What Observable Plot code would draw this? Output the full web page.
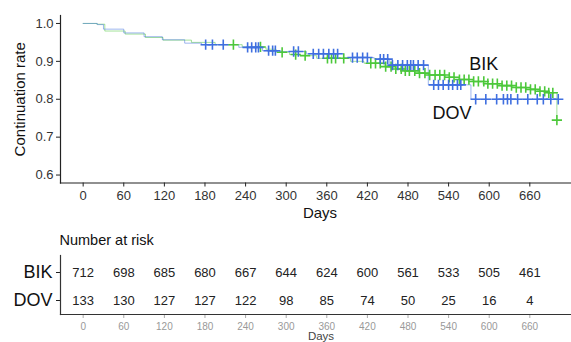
<!DOCTYPE html>
<html>
<head>
<meta charset="utf-8">
<script src="https://cdn.jsdelivr.net/npm/d3@7"></script>
<script src="https://cdn.jsdelivr.net/npm/@observablehq/plot@0.6"></script>
<style>
  html, body { margin: 0; padding: 0; background: white; }
  #chart svg { display: block; }
</style>
</head>
<body>
<div id="chart"></div>
<script>
// ---- Data ----
const groups = ["BIK", "DOV"];
const riskTimes = [0, 60, 120, 180, 240, 300, 360, 420, 480, 540, 600, 660];
const bikRisk = [712, 698, 685, 680, 667, 644, 624, 600, 561, 533, 505, 461];
const dovRisk = [133, 130, 127, 127, 122, 98, 85, 74, 50, 25, 16, 4];
const yTicks = [0.6, 0.7, 0.8, 0.9, 1.0];

// Kaplan-Meier step curves (day, continuation rate)
const bikTimes = [0, 20, 32, 62, 92, 118, 160, 195, 235, 270, 285, 305, 320, 345, 395, 415, 445, 462, 476, 495, 510, 535, 555, 575, 595, 615, 635, 655, 672, 688, 700];
const bikSurv  = [1.0, 0.998, 0.98, 0.972, 0.963, 0.956, 0.95, 0.944, 0.938, 0.932, 0.924, 0.918, 0.915, 0.908, 0.9, 0.895, 0.886, 0.88, 0.875, 0.869, 0.864, 0.858, 0.852, 0.847, 0.841, 0.836, 0.831, 0.826, 0.821, 0.817, 0.745];
const dovTimes = [0, 21, 30, 60, 90, 117, 150, 175, 230, 265, 290, 330, 385, 430, 453, 510, 573, 702];
const dovSurv  = [1.0, 0.997, 0.985, 0.975, 0.965, 0.957, 0.948, 0.944, 0.937, 0.928, 0.926, 0.92, 0.91, 0.906, 0.89, 0.838, 0.80, 0.80];

// Censoring times (days)
const bikCensor = [222, 262, 294, 314, 328, 361, 367, 373, 385, 425, 432, 439, 447, 455, 462, 470, 476, 482, 490, 497, 505, 512, 520, 527, 534, 541, 548, 556, 563, 570, 577, 584, 592, 598, 605, 612, 619, 626, 633, 640, 647, 654, 661, 668, 675, 682, 688, 694, 700];
const dovCensor = [181, 191, 207, 243, 249, 255, 259, 274, 280, 284, 311, 318, 340, 348, 355, 363, 370, 376, 398, 405, 413, 420, 439, 444, 450, 457, 465, 472, 479, 484, 488, 495, 503, 518, 525, 532, 540, 546, 553, 558, 580, 595, 611, 621, 627, 632, 642, 657, 671, 680, 691, 702];

// Curve end labels
const labelText = ["BIK", "DOV"];
const labelDay = [592, 545];
const labelRate = [0.892, 0.762];

// ---- Build tables ----
const colors = {BIK: "#4cc83a", DOV: "#3f6fe0"};
function stepAt(times, surv, t) {
  let v = surv[0];
  for (let i = 0; i < times.length; i++) if (times[i] <= t) v = surv[i];
  return v;
}
const curves = [
  ...bikTimes.map((t, i) => ({group: "BIK", day: t, rate: bikSurv[i]})),
  ...dovTimes.map((t, i) => ({group: "DOV", day: t, rate: dovSurv[i]}))
];
const censors = [
  ...bikCensor.map(t => ({group: "BIK", day: t, rate: stepAt(bikTimes, bikSurv, t)})),
  ...dovCensor.map(t => ({group: "DOV", day: t, rate: stepAt(dovTimes, dovSurv, t)}))
];
const labels = labelText.map((s, i) => ({text: s, day: labelDay[i], rate: labelRate[i]}));
const risk = [
  ...riskTimes.map((t, i) => ({group: "BIK", day: t, n: bikRisk[i]})),
  ...riskTimes.map((t, i) => ({group: "DOV", day: t, n: dovRisk[i]}))
];

const xDomain = [-33.5, 721.6];
const font = "Arial, 'Liberation Sans', sans-serif";

const main = Plot.plot({
  width: 571, height: 225,
  marginLeft: 60, marginRight: 0, marginTop: 15, marginBottom: 42.5,
  style: {fontFamily: font, background: "white", color: "#222", overflow: "visible"},
  x: {domain: xDomain},
  y: {domain: [0.579, 1.021]},
  marks: [
    Plot.axisX({ticks: riskTimes, tickSize: 4, tickPadding: 4, fontSize: 13, label: null, stroke: "#222", fill: "#333"}),
    Plot.axisY({ticks: yTicks, tickFormat: d3.format(".1f"), tickSize: 4, tickPadding: 3, fontSize: 13, label: null, stroke: "#222", fill: "#333"}),
    Plot.frame({anchor: "left", stroke: "#222", strokeWidth: 1.2}),
    Plot.frame({anchor: "bottom", stroke: "#222", strokeWidth: 1.2}),
    Plot.line(curves, {x: "day", y: "rate", z: "group", curve: "step-after",
      stroke: d => colors[d.group], strokeWidth: 1, strokeOpacity: 0.5}),
    Plot.dot(censors, {x: "day", y: "rate", symbol: "plus", r: 3.4, fill: "none",
      stroke: d => colors[d.group], strokeWidth: 1.6}),
    Plot.text(labels, {x: "day", y: "rate", text: "text", fontSize: 18, fill: "#111"}),
    Plot.text(["Days"], {frameAnchor: "bottom", lineAnchor: "middle", dx: 4, dy: 30, fontSize: 15, fill: "#111"}),
    Plot.text(["Continuation rate"], {frameAnchor: "left", textAnchor: "middle", lineAnchor: "middle", dx: -40, rotate: -90, fontSize: 15, fill: "#111"})
  ]
});

const table = Plot.plot({
  width: 571, height: 117,
  marginLeft: 60, marginRight: 0, marginTop: 30, marginBottom: 28,
  style: {fontFamily: font, background: "white", color: "#222", overflow: "visible"},
  x: {domain: xDomain},
  y: {type: "point", domain: groups, range: [46.7, 75], padding: 0},
  marks: [
    Plot.axisX({ticks: riskTimes, tickSize: 4, tickPadding: 4, fontSize: 10, label: null, stroke: "#aaa", fill: "#999"}),
    Plot.axisY({tickSize: 4, tickPadding: 4, fontSize: 18, label: null, stroke: "#222", fill: "#111"}),
    Plot.frame({anchor: "left", stroke: "#333", strokeWidth: 1.2}),
    Plot.frame({anchor: "bottom", stroke: "#333", strokeWidth: 1.2}),
    Plot.text(["Number at risk"], {frameAnchor: "top-left", lineAnchor: "middle", dx: -1, dy: -15, textAnchor: "start", fontSize: 14.5, fill: "#111"}),
    Plot.text(risk, {x: "day", y: "group", text: "n", fontSize: 13, fill: "#222"}),
    Plot.text(["Days"], {frameAnchor: "bottom", lineAnchor: "middle", dx: 5, dy: 22, fontSize: 11.5, fill: "#444"})
  ]
});

const chart = document.getElementById("chart");
chart.appendChild(main);
chart.appendChild(table);
</script>
</body>
</html>
